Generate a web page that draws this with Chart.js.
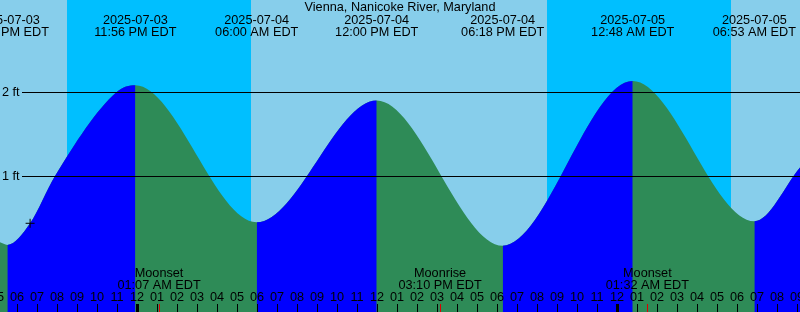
<!DOCTYPE html>
<html><head><meta charset="utf-8">
<script src="https://cdn.jsdelivr.net/npm/chart.js@4"></script>
<style>html,body{margin:0;padding:0;background:#fff;overflow:hidden}canvas{display:block}</style>
</head><body>
<canvas id="c" width="800" height="312"></canvas>
<script>
// ---- data (times are hours relative to 2025-07-04 00:00 EDT) ----
const stationTitle = "Vienna, Nanicoke River, Maryland";
const viewStartHour = -6.835;
const viewEndHour = 33.165;
const levelMinFeet = -0.619;
const levelMaxFeet = 3.095;

const tideHours = [-6.835, -6.467, -5.33, -4.085, -1.0, -0.067, 6.0, 12.0, 18.3, 24.8, 30.883, 33.165];
const tideFeet  = [0.21,   0.18,   0.437,  1.0,   2.0,  2.08,  0.45, 1.90, 0.17, 2.13, 0.46,   1.10];

const extremeHours = [-6.467, -0.067, 6.0, 12.0, 18.3, 24.8, 30.883];
const extremeDates = ["2025-07-03","2025-07-03","2025-07-04","2025-07-04","2025-07-04","2025-07-05","2025-07-05"];
const extremeTimes = ["05:32 PM EDT","11:56 PM EDT","06:00 AM EDT","12:00 PM EDT","06:18 PM EDT","12:48 AM EDT","06:53 AM EDT"];

const nightStartHours = [-3.485, 20.515];
const nightEndHours   = [5.715, 29.715];

const moonHours  = [1.117, 15.167, 25.533];
const moonEvents = ["Moonset","Moonrise","Moonset"];
const moonTimes  = ["01:07 AM EDT","03:10 PM EDT","01:32 AM EDT"];

const levelTicks  = [1, 2];
const levelLabels = ["1 ft","2 ft"];

const hourTickStart = -7;
const hourTickLabels = ["05","06","07","08","09","10","11","12",
  "01","02","03","04","05","06","07","08","09","10","11","12",
  "01","02","03","04","05","06","07","08","09","10","11","12",
  "01","02","03","04","05","06","07","08","09"];
const midnightHours = [0, 24];

const markHours = [-5.33];
const markFeet  = [0.437];

// ---- colours ----
const DAY = "#87CEEB", NIGHT = "#00BFFF", RISING = "#0000FF", FALLING = "#2E8B57";
const FONT = '12.7px "Liberation Sans", Arial, sans-serif';

const tidePoints = tideHours.map((h, i) => ({x: h, y: tideFeet[i]}));
const markPoints = markHours.map((h, i) => ({x: h, y: markFeet[i]}));

const backgroundPlugin = {
  id: 'bands',
  beforeDatasetsDraw(chart) {
    const {ctx, scales: {x}} = chart;
    ctx.save();
    ctx.fillStyle = DAY;
    ctx.fillRect(0, 0, chart.width, chart.height);
    ctx.fillStyle = NIGHT;
    nightStartHours.forEach((s, i) => {
      const x0 = Math.round(x.getPixelForValue(s));
      const x1 = Math.round(x.getPixelForValue(nightEndHours[i]));
      ctx.fillRect(x0, 0, x1 - x0, chart.height);
    });
    ctx.restore();
  }
};

const overlayPlugin = {
  id: 'overlay',
  afterDatasetsDraw(chart) {
    const {ctx, scales: {x, y}} = chart;
    ctx.save();
    ctx.fillStyle = "#000";
    ctx.font = FONT;
    levelTicks.forEach((v, i) => {
      const py = Math.round(y.getPixelForValue(v));
      ctx.fillRect(22, py, chart.width - 22, 1);
      ctx.textAlign = "left"; ctx.textBaseline = "middle";
      ctx.fillText(levelLabels[i], 2, py + 0.5);
    });
    ctx.textAlign = "center"; ctx.textBaseline = "middle";
    ctx.fillText(stationTitle, 400, 7);
    extremeHours.forEach((h, i) => {
      const px = x.getPixelForValue(h);
      ctx.fillText(extremeDates[i], px, 20);
      ctx.fillText(extremeTimes[i], px, 32);
    });
    moonHours.forEach((h, i) => {
      const px = x.getPixelForValue(h);
      ctx.fillText(moonEvents[i], px, 273.5);
      ctx.fillText(moonTimes[i], px, 285.5);
    });
    hourTickLabels.forEach((lab, i) => {
      const h = hourTickStart + i;
      const px = Math.round(x.getPixelForValue(h));
      ctx.fillText(lab, px, 297.5);
      if (midnightHours.includes(h)) ctx.fillRect(px - 1, 304, 3, 8);
      else ctx.fillRect(px, 304, 1, 8);
    });
    ctx.fillStyle = "#e00000";
    moonHours.forEach(h => {
      const px = Math.round(x.getPixelForValue(h));
      ctx.fillRect(px, 304, 1, 8);
    });
    ctx.restore();
  }
};

const tideCommon = {
  data: tidePoints,
  fill: 'start',
  borderWidth: 0,
  borderColor: 'rgba(0,0,0,0)',
  pointRadius: 0,
  cubicInterpolationMode: 'monotone'
};

new Chart(document.getElementById('c'), {
  type: 'line',
  data: {
    datasets: [
      {
        type: 'scatter',
        data: markPoints,
        pointStyle: 'cross',
        pointRadius: 4.5,
        borderColor: '#000',
        borderWidth: 1,
        order: 0
      },
      Object.assign({}, tideCommon, {
        backgroundColor: RISING,
        segment: {
          backgroundColor: c => (c.p1.parsed.y > c.p0.parsed.y ? RISING : 'rgba(0,0,0,0)')
        },
        order: 1
      }),
      Object.assign({}, tideCommon, {
        backgroundColor: FALLING,
        order: 2
      })
    ]
  },
  options: {
    responsive: false,
    animation: false,
    devicePixelRatio: 1,
    layout: {padding: 0, autoPadding: false},
    plugins: {legend: {display: false}, tooltip: {enabled: false}, title: {display: false}},
    scales: {
      x: {type: 'linear', min: viewStartHour, max: viewEndHour, display: false},
      y: {type: 'linear', min: levelMinFeet, max: levelMaxFeet, display: false}
    },
    events: []
  },
  plugins: [backgroundPlugin, overlayPlugin]
});
</script>
</body></html>
